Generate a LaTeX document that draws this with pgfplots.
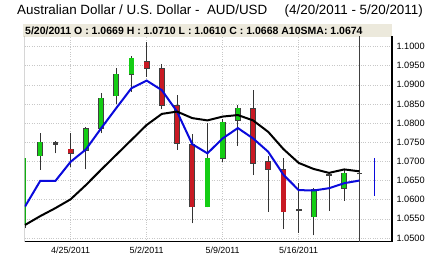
\documentclass[border=0pt]{standalone}
\usepackage{pgfplots}
\usepackage{pgfplotstable}
\pgfplotsset{compat=1.18}
\usepackage{fontspec}
\setmainfont{Liberation Sans}
\definecolor{cgreen}{RGB}{20,205,20}
\definecolor{cred}{RGB}{200,25,35}
\definecolor{cblue}{RGB}{10,10,220}
\definecolor{hdrbg}{RGB}{236,233,220}
\definecolor{gridc}{RGB}{200,200,200}
% candles: i open high low close
\pgfplotstableread{
i o h l c
0 1.0534 1.0708 1.0526 1.0708
1 1.0715 1.0773 1.0678 1.0750
2 1.0745 1.0754 1.0721 1.0748
3 1.0732 1.0775 1.0685 1.0721
4 1.0730 1.0791 1.0679 1.0785
5 1.0786 1.0878 1.0773 1.0865
6 1.0872 1.0945 1.0850 1.0927
7 1.0928 1.0976 1.0882 1.0969
8 1.0960 1.1011 1.0921 1.0943
9 1.0941 1.0954 1.0836 1.0847
10 1.0845 1.0873 1.0730 1.0747
11 1.0743 1.0771 1.0538 1.0582
12 1.0582 1.0799 1.0580 1.0708
13 1.0708 1.0811 1.0699 1.0802
14 1.0808 1.0847 1.0741 1.0839
15 1.0837 1.0886 1.0664 1.0695
16 1.0699 1.0713 1.0568 1.0680
17 1.0678 1.0709 1.0523 1.0569
18 1.0571 1.0644 1.0514 1.0574
19 1.0556 1.0630 1.0507 1.0625
20 1.0664 1.0669 1.0571 1.0666
21 1.0630 1.0681 1.0597 1.0669
22 1.0669 1.0710 1.0610 1.0668
}\candles
% first candle, cut by the left edge
\pgfplotstableread{
i b t
0 1.0534 1.0708
}\firstb
% bodies split by colour: i bottom top
\pgfplotstableread{
i b t
1 1.0715 1.0750
4 1.0730 1.0785
5 1.0786 1.0865
6 1.0872 1.0927
7 1.0928 1.0969
12 1.0582 1.0708
13 1.0708 1.0802
14 1.0808 1.0839
19 1.0556 1.0625
21 1.0630 1.0669
}\greenb
\pgfplotstableread{
i b t
3 1.0721 1.0732
8 1.0943 1.0960
9 1.0847 1.0941
10 1.0747 1.0845
11 1.0582 1.0743
15 1.0695 1.0837
16 1.0680 1.0699
17 1.0569 1.0678
}\redb
\pgfplotstableread{
i b t
2 1.0745 1.0748
18 1.0571 1.0574
20 1.0664 1.0666
22 1.0668 1.0669
}\dojib
\pgfplotsset{
  body/.style args={#1/#2}{draw=none, mark=none, forget plot,
    error bars/.cd, y dir=plus, y explicit, error mark=none,
    error bar style={line width=#2, draw=#1, solid}},
}
\begin{document}
\begin{tikzpicture}
\path[use as bounding box] (0pt,0pt) rectangle (425pt,256pt);
\node[anchor=base west, inner sep=0pt, font=\fontsize{13.4}{15}\selectfont] at (17pt,241pt) {Australian Dollar / U.S. Dollar -\ \ AUD/USD};
\node[anchor=base east, inner sep=0pt, font=\fontsize{13.4}{15}\selectfont] at (423pt,241pt) {(4/20/2011 - 5/20/2011)};
\fill[hdrbg] (23pt,219pt) rectangle (392pt,232pt);
\node[anchor=west, inner sep=0pt, font=\fontsize{10.5}{12}\selectfont\bfseries] at (25pt,225.5pt) {5/20/2011 O : 1.0669 H : 1.0710 L : 1.0610 C : 1.0668 A10SMA: 1.0674};
\begin{axis}[
  at={(24.5pt,14.3pt)}, anchor=south west,
  scale only axis, width=367.5pt, height=205.7pt,
  xmin=-0.033, xmax=24.14, ymin=1.04903, ymax=1.10274,
  axis x line*=bottom, axis y line*=right,
  axis line style={line width=1.2pt, black},
  xtick={3,8,13,18}, xticklabels={4/25/2011,5/2/2011,5/9/2011,5/16/2011},
  ytick={1.050,1.055,1.060,1.065,1.070,1.075,1.080,1.085,1.090,1.095,1.100},
  yticklabel pos=right,
  major tick length=0pt,
  /pgf/number format/.cd, fixed, fixed zerofill, precision=4, assume math mode=true,
  /pgfplots/.cd,
  scaled y ticks=false,
  xticklabel style={font=\fontsize{8.9}{10}\selectfont, yshift=-1.5pt},
  yticklabel style={font=\fontsize{9.2}{10}\selectfont, anchor=west, xshift=1pt},
  grid=major, major grid style={gridc, dotted, line width=0.5pt},
  clip=true,
]
% wicks
\addplot[body={black!80/0.9pt}] table[x=i, y=l, y error expr=\thisrow{h}-\thisrow{l}] {\candles};
% body outlines
\addplot[body={black!75/5.8pt}] table[x=i, y expr=\thisrow{b}-0.00016, y error expr=\thisrow{t}-\thisrow{b}+0.00032] {\greenb};
\addplot[body={black!75/5.8pt}] table[x=i, y expr=\thisrow{b}-0.00016, y error expr=\thisrow{t}-\thisrow{b}+0.00032] {\redb};
\addplot[body={black!75/5.8pt}] table[x=i, y expr=\thisrow{b}-0.00016, y error expr=\thisrow{t}-\thisrow{b}+0.00032] {\dojib};
% body fills
\addplot[body={cgreen/4.4pt}] table[x=i, y=b, y error expr=\thisrow{t}-\thisrow{b}] {\greenb};
\addplot[body={cred/4.4pt}] table[x=i, y=b, y error expr=\thisrow{t}-\thisrow{b}] {\redb};
\addplot[body={cgreen!85!black/1.6pt}] table[x=i, y=b, y error expr=\thisrow{t}-\thisrow{b}] {\firstb};
% cursor line
\addplot[black!75, line width=0.8pt] coordinates {(22,1.04903) (22,1.10274)};
% projection segment
\addplot[cblue, line width=1.2pt] coordinates {(23,1.0610) (23,1.0710)};
% short average (blue)
\addplot[cblue, line width=2pt] coordinates {
(0,1.0582) (1,1.0649) (2,1.0649) (3,1.0699) (4,1.0731) (5,1.0786) (6,1.0839)
(7,1.0891) (8,1.0911) (9,1.0886) (10,1.0830) (11,1.0745) (12,1.0721) (13,1.0760)
(14,1.0787) (15,1.0760) (16,1.0725) (17,1.0665) (18,1.0625) (19,1.0624) (20,1.0630)
(21,1.0643) (22,1.0650)};
% A10SMA (black)
\addplot[black, line width=2pt] coordinates {
(0,1.0534) (1,1.0557) (2,1.0578) (3,1.0601) (4,1.0638) (5,1.0678) (6,1.0717)
(7,1.0756) (8,1.0795) (9,1.0824) (10,1.0830) (11,1.0813) (12,1.0807) (13,1.0817)
(14,1.0821) (15,1.0807) (16,1.0777) (17,1.0732) (18,1.0696) (19,1.0680) (20,1.0670)
(21,1.0679) (22,1.0674)};
\draw[gridc!70!black, line width=0.5pt] (rel axis cs:0,0) -- (rel axis cs:0,1);
\end{axis}
\end{tikzpicture}
\end{document}
